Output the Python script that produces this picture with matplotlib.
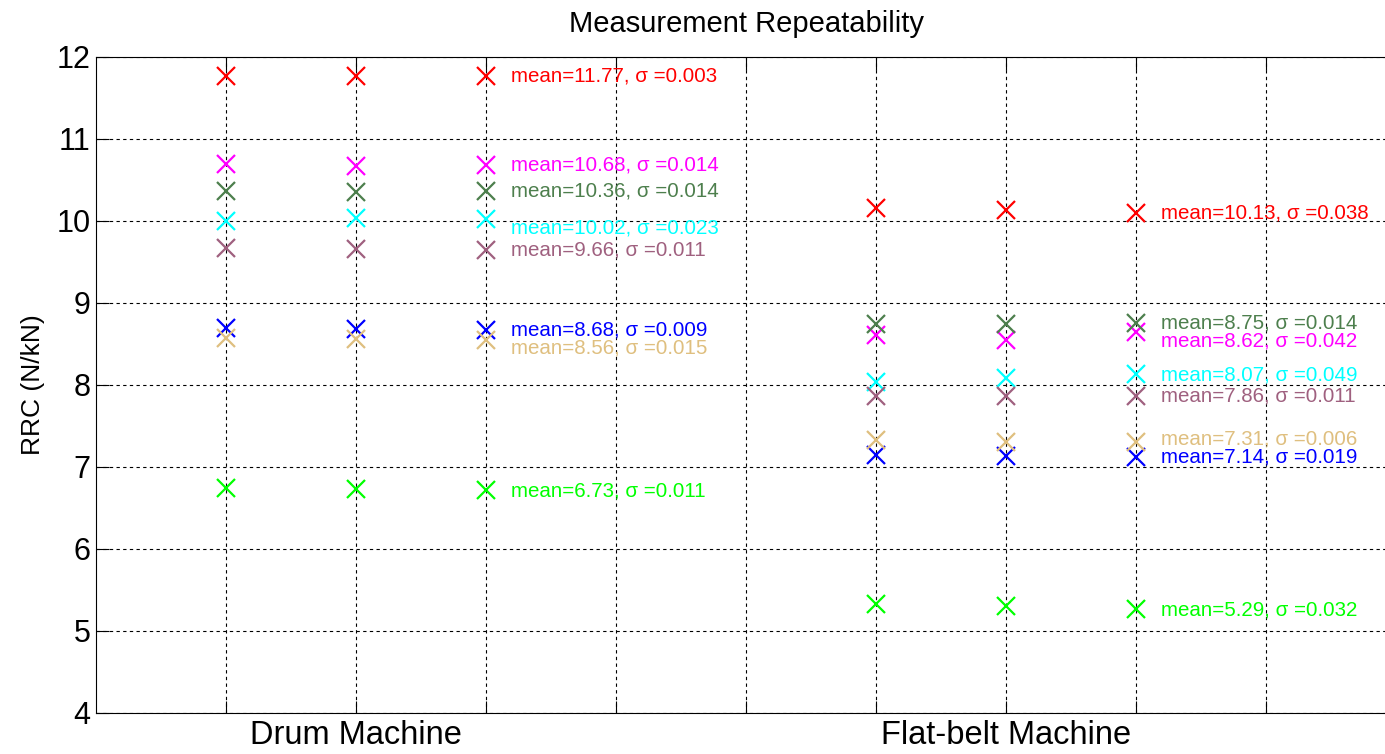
import numpy as np
import matplotlib
matplotlib.use('Agg')
import matplotlib.pyplot as plt

plt.rcParams['font.family'] = ['Liberation Sans', 'DejaVu Sans']

# tick positions / labels
x_ticks = [1, 2, 3, 4, 5, 6, 7, 8, 9]
x_labels = ['', 'Drum Machine', '', '', '', '', 'Flat-belt Machine', '', '']
drum_x = [1, 2, 3]
flat_x = [6, 7, 8]

colors = ['#ff0000', '#ff00ff', '#4d7f4d', '#00ffff', '#9f607f', '#0000ff', '#dfbf7f', '#00ff00']

# drum machine repeats (3 runs per tyre)
drum_red = [11.77, 11.77, 11.77]
drum_magenta = [10.70, 10.67, 10.68]
drum_dkgreen = [10.36, 10.35, 10.37]
drum_cyan = [10.00, 10.04, 10.02]
drum_mauve = [9.67, 9.66, 9.65]
drum_blue = [8.69, 8.68, 8.67]
drum_tan = [8.57, 8.56, 8.55]
drum_green = [6.74, 6.73, 6.72]
drum_mean = [11.77, 10.68, 10.36, 10.02, 9.66, 8.68, 8.56, 6.73]
drum_sigma = ['0.003', '0.014', '0.014', '0.023', '0.011', '0.009', '0.015', '0.011']
drum_text_y = [11.77, 10.68, 10.37, 9.92, 9.65, 8.67, 8.45, 6.71]

# flat-belt machine repeats
flat_red = [10.16, 10.13, 10.10]
flat_magenta = [8.61, 8.55, 8.65]
flat_dkgreen = [8.74, 8.75, 8.76]
flat_cyan = [8.04, 8.09, 8.13]
flat_mauve = [7.86, 7.86, 7.86]
flat_blue = [7.15, 7.13, 7.12]
flat_tan = [7.33, 7.30, 7.31]
flat_green = [5.33, 5.30, 5.27]
flat_mean = [10.13, 8.62, 8.75, 8.07, 7.86, 7.14, 7.31, 5.29]
flat_sigma = ['0.038', '0.042', '0.014', '0.049', '0.011', '0.019', '0.006', '0.032']
flat_text_y = [10.10, 8.54, 8.76, 8.12, 7.87, 7.12, 7.34, 5.26]

drum_data = [drum_red, drum_magenta, drum_dkgreen, drum_cyan, drum_mauve, drum_blue, drum_tan, drum_green]
flat_data = [flat_red, flat_magenta, flat_dkgreen, flat_cyan, flat_mauve, flat_blue, flat_tan, flat_green]

fig = plt.figure(figsize=(13.85, 7.54), dpi=100)
ax = fig.add_axes([96/1385, 41/754, 1300/1385, 656/754])

for i in range(8):
    ax.plot(drum_x, drum_data[i], 'x', color=colors[i], ms=13, mew=1.6, zorder=3)
    ax.plot(flat_x, flat_data[i], 'x', color=colors[i], ms=13, mew=1.6, zorder=3)
    ax.text(3.19, drum_text_y[i], 'mean=%.2f, σ =%s' % (drum_mean[i], drum_sigma[i]),
            color=colors[i], fontsize=14.8, ha='left', va='center')
    ax.text(8.19, flat_text_y[i], 'mean=%.2f, σ =%s' % (flat_mean[i], flat_sigma[i]),
            color=colors[i], fontsize=14.8, ha='left', va='center')

ax.set_xlim(0, 10)
ax.set_ylim(4, 12)
ax.set_xticks(x_ticks)
ax.set_xticklabels(x_labels, fontsize=23.5)
ax.set_yticks(range(4, 13))
ax.tick_params(axis='y', labelsize=22, pad=4)
ax.tick_params(direction='in', length=9, width=0.8, top=True, right=False)
ax.tick_params(axis='x', pad=5)
ax.grid(True, color='black', linestyle=(0, (3, 3)), linewidth=0.8)
for s in ax.spines.values():
    s.set_linewidth(0.8)
ax.spines['right'].set_visible(False)

ax.set_ylabel('RRC (N/kN)', fontsize=19)
ax.yaxis.set_label_coords(-0.039, 0.5)
ax.set_title('Measurement Repeatability', fontsize=21, pad=18)

plt.savefig('out.png', dpi=100)
